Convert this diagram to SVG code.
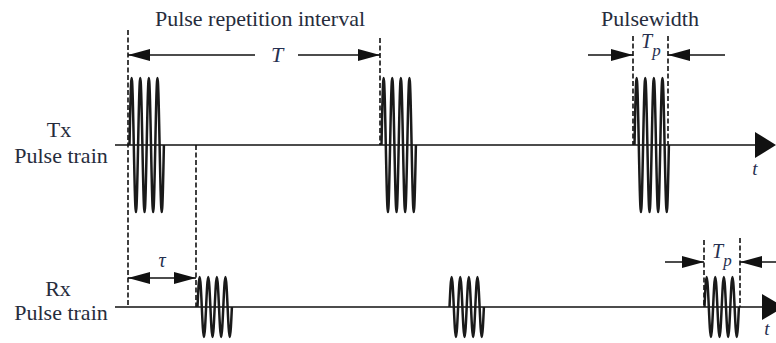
<svg xmlns="http://www.w3.org/2000/svg" xmlns:xlink="http://www.w3.org/1999/xlink" width="776" height="343" viewBox="0 0 776 343">
<style>
.lbl{font-family:'Liberation Serif','Times New Roman','DejaVu Serif',serif;font-size:22px;fill:#262c3c}
.it{font-family:'Liberation Serif','Times New Roman','DejaVu Serif',serif;font-style:italic;fill:#263050}
.base{stroke:#111;stroke-width:1.4;fill:none}
.dash{stroke:#111;stroke-width:1.6;stroke-dasharray:5,2.5;fill:none}
.dim{stroke:#111;stroke-width:1.3;fill:none}
.wave{stroke:#1a1a1a;stroke-width:2.5;fill:none;stroke-linejoin:round}
</style>
<defs>
<marker id="ah" viewBox="0 0 22 12" refX="22" refY="6" markerWidth="22" markerHeight="12" markerUnits="userSpaceOnUse" orient="auto-start-reverse"><path d="M0,0 L22,6 L0,12 Z" fill="#111"/></marker>
<path id="txp" class="wave" d="M0,0 c0.7,-34.3 1.37,-67 2.15,-67 c0.78,0 1.45,32.7 2.15,67 c0.7,34.3 1.37,67 2.15,67 c0.78,0 1.45,-32.7 2.15,-67 c0.7,-34.3 1.37,-67 2.15,-67 c0.78,0 1.45,32.7 2.15,67 c0.7,34.3 1.37,67 2.15,67 c0.78,0 1.45,-32.7 2.15,-67 c0.7,-34.3 1.37,-67 2.15,-67 c0.78,0 1.45,32.7 2.15,67 c0.7,34.3 1.37,67 2.15,67 c0.78,0 1.45,-32.7 2.15,-67 c0.7,-34.3 1.37,-67 2.15,-67 c0.78,0 1.45,32.7 2.15,67 c0.7,34.3 1.37,67 2.15,67 c0.78,0 1.45,-32.7 2.15,-67"/>
<path id="rxp" class="wave" d="M0,0 c0.7,-15.4 1.37,-30 2.15,-30 c0.78,0 1.45,14.6 2.15,30 c0.7,15.4 1.37,30 2.15,30 c0.78,0 1.45,-14.6 2.15,-30 c0.7,-15.4 1.37,-30 2.15,-30 c0.78,0 1.45,14.6 2.15,30 c0.7,15.4 1.37,30 2.15,30 c0.78,0 1.45,-14.6 2.15,-30 c0.7,-15.4 1.37,-30 2.15,-30 c0.78,0 1.45,14.6 2.15,30 c0.7,15.4 1.37,30 2.15,30 c0.78,0 1.45,-14.6 2.15,-30 c0.7,-15.4 1.37,-30 2.15,-30 c0.78,0 1.45,14.6 2.15,30 c0.7,15.4 1.37,30 2.15,30 c0.78,0 1.45,-14.6 2.15,-30"/>
</defs>
<rect width="776" height="343" fill="#fff"/>

<g id="tx-axis">
<line class="base" x1="115" y1="145" x2="756" y2="145"/>
<path d="M755,132 L776,145 L755,158 Z" fill="#111"/>
<text class="it" x="755" y="175" font-size="19" text-anchor="middle">t</text>
</g>
<g id="rx-axis">
<line class="base" x1="115" y1="307" x2="763" y2="307"/>
<path d="M762,294 L784,307 L762,320 Z" fill="#111"/>
<text class="it" x="767" y="335" font-size="19" text-anchor="middle">t</text>
</g>

<g id="tx-label">
<text class="lbl" x="59" y="137" text-anchor="middle">Tx</text>
<text class="lbl" x="61" y="163" text-anchor="middle">Pulse train</text>
</g>
<g id="rx-label">
<text class="lbl" x="58" y="296" text-anchor="middle">Rx</text>
<text class="lbl" x="61" y="320" text-anchor="middle">Pulse train</text>
</g>

<g id="tx-pulse-1"><use xlink:href="#txp" href="#txp" x="129.5" y="145"/></g>
<g id="tx-pulse-2"><use xlink:href="#txp" href="#txp" x="381.5" y="145"/></g>
<g id="tx-pulse-3"><use xlink:href="#txp" href="#txp" x="634.5" y="145"/></g>
<g id="rx-pulse-1"><use xlink:href="#rxp" href="#rxp" x="197.5" y="307"/></g>
<g id="rx-pulse-2"><use xlink:href="#rxp" href="#rxp" x="449.5" y="307"/></g>
<g id="rx-pulse-3"><use xlink:href="#rxp" href="#rxp" x="704.5" y="307"/></g>

<g id="connectors">
<line class="dash" x1="128" y1="30" x2="128" y2="307"/>
<line class="dash" x1="196" y1="145" x2="196" y2="307"/>
<line class="dash" x1="380" y1="38" x2="380" y2="145"/>
<line class="dash" x1="633" y1="36" x2="633" y2="145"/>
<line class="dash" x1="668" y1="36" x2="668" y2="145"/>
<line class="dash" x1="704" y1="240" x2="704" y2="307"/>
<line class="dash" x1="740" y1="238" x2="740" y2="307"/>
<line class="dim" x1="128" y1="55" x2="255" y2="55" marker-start="url(#ah)"/>
<line class="dim" x1="298" y1="55" x2="380" y2="55" marker-end="url(#ah)"/>
<line class="dim" x1="588" y1="55" x2="633" y2="55" marker-end="url(#ah)"/>
<line class="dim" x1="725" y1="55" x2="668" y2="55" marker-end="url(#ah)"/>
<line class="dim" x1="665" y1="262" x2="704" y2="262" marker-end="url(#ah)"/>
<line class="dim" x1="780" y1="262" x2="740" y2="262" marker-end="url(#ah)"/>
<line class="dim" x1="128" y1="278" x2="196" y2="278" marker-start="url(#ah)" marker-end="url(#ah)"/>
</g>

<g id="labels">
<text class="lbl" x="260" y="26" text-anchor="middle">Pulse repetition interval</text>
<text class="it" x="277" y="62" font-size="22" text-anchor="middle">T</text>
<text class="lbl" x="650" y="26" text-anchor="middle">Pulsewidth</text>
<text class="it" x="641" y="48" font-size="20">T<tspan font-size="17" dy="8">p</tspan></text>
<text class="it" x="712" y="258" font-size="20">T<tspan font-size="17" dy="8">p</tspan></text>
<text class="it" x="162" y="267" font-size="20" text-anchor="middle">τ</text>
</g>
</svg>
